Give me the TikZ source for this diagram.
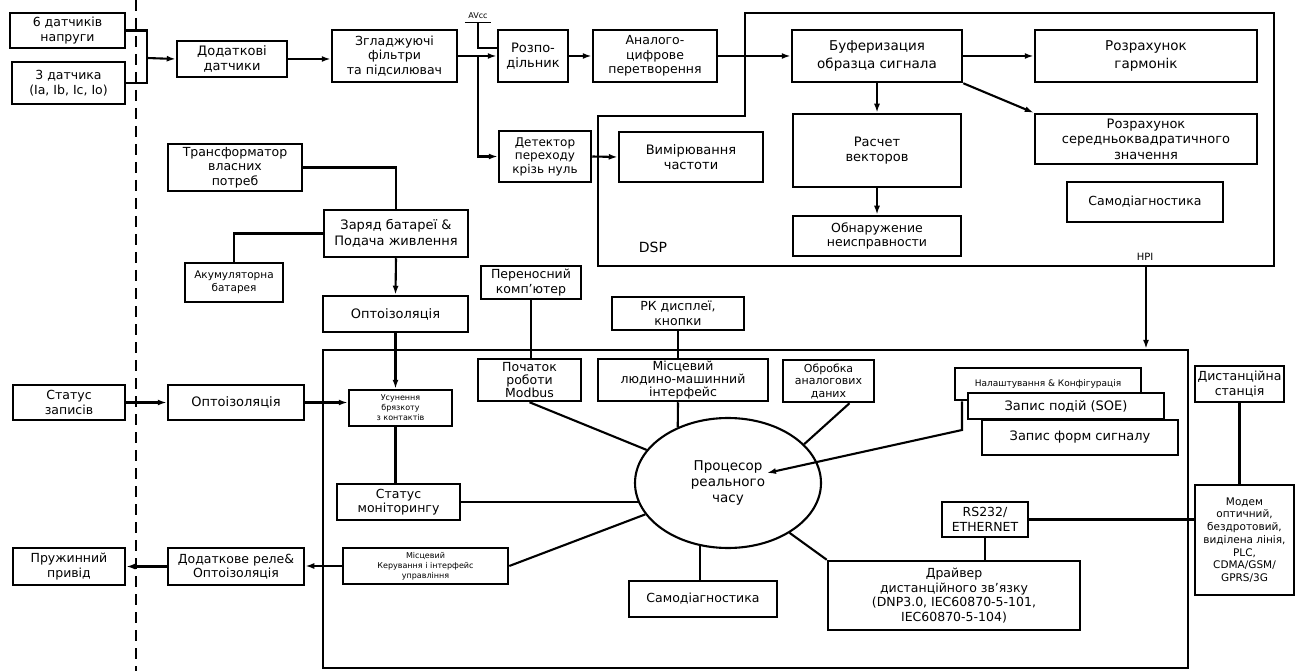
\documentclass[tikz,border=0pt]{standalone}
\usepackage{fontspec}
\setmainfont{DejaVu Sans}
\usetikzlibrary{arrows.meta,shapes.geometric,calc}
\begin{document}
\begin{tikzpicture}[x=1pt,y=-1pt,
 bx/.style={draw,line width=2.5pt,fill=white,inner sep=1pt,align=center,font=\fontsize{12.5}{14.5}\selectfont},
 big/.style={font=\fontsize{13.5}{18}\selectfont},
 mid/.style={font=\fontsize{13}{15.5}\selectfont},
 sml/.style={font=\fontsize{10.5}{12.5}\selectfont},
 tiny/.style={font=\fontsize{8}{10}\selectfont},
 ln/.style={line width=2.1pt},
 ar/.style={line width=2.1pt,-{Latex[length=9pt,width=6pt]}},
]
\useasboundingbox (0,0) rectangle (1299,671);
\fill[white] (0,0) rectangle (1299,671);
% dashed boundary
\draw[line width=1.6pt,dash pattern=on 11pt off 7pt] (136,0) -- (136,671);
% controller outline and DSP outline
\node[draw,line width=2.3pt,minimum width=865pt,minimum height=318pt,inner sep=0pt] (ctrl) at (755.5,509) {};
\draw[line width=2.3pt] (745,13) -- (1274,13) -- (1274,266) -- (598,266) -- (598,116) -- (745,116) -- cycle;
\node[font=\fontsize{14}{16}\selectfont] (dsp) at (653,247) {DSP};
\node[font=\fontsize{10}{12}\selectfont] (hpilbl) at (1145,257) {HPI};

% top chain
\node[bx,minimum width=115pt,minimum height=35pt] (v6) at (67.5,30.5) {6 датчиків\\напруги};
\node[bx,minimum width=113pt,minimum height=42pt] (i3) at (68.5,83) {3 датчика\\(Ia, Ib, Ic, Io)};
\node[bx,mid,minimum width=110pt,minimum height=36pt] (dod) at (232,59) {Додаткові\\датчики};
\node[bx,minimum width=125pt,minimum height=52pt] (filt) at (394.5,56) {Згладжуючі\\фільтри\\та підсилювач};
\node[bx,mid,minimum width=70pt,minimum height=52pt] (div) at (533,56) {Розпо-\\дільник};
\node[bx,minimum width=124pt,minimum height=52pt] (adc) at (655,56) {Аналого-\\цифрове\\перетворення};
\node[bx,big,minimum width=170pt,minimum height=52pt] (buf) at (877,56) {Буферизация\\образца сигнала};
\node[bx,big,minimum width=222pt,minimum height=52pt] (harm) at (1146,56) {Розрахунок\\гармонік};
\node[bx,mid,minimum width=168pt,minimum height=73pt] (vec) at (877,150.5) {Расчет\\векторов};
\node[bx,mid,minimum width=222pt,minimum height=50pt] (rms) at (1146,139) {Розрахунок\\середньоквадратичного\\значення};
\node[bx,minimum width=168pt,minimum height=40pt] (fault) at (877,236) {Обнаружение\\неисправности};
\node[bx,minimum width=156pt,minimum height=40pt] (selfa) at (1145,202) {Самодіагностика};
\node[bx,font=\fontsize{12}{13.5}\selectfont,minimum width=92pt,minimum height=51pt] (zcd) at (545,156.5) {Детектор\\переходу\\крізь нуль};
\node[bx,mid,minimum width=144pt,minimum height=50pt] (freq) at (691,157) {Вимірювання\\частоти};
\node[tiny] (avcc) at (478,16) {AVcc};

% power section
\node[bx,minimum width=134pt,minimum height=47pt] (trans) at (235,167.5) {Трансформатор\\власних\\потреб};
\node[bx,sml,minimum width=98pt,minimum height=39pt] (batt) at (234,282.5) {Акумуляторна\\батарея};
\node[bx,mid,minimum width=144pt,minimum height=47pt] (charge) at (396,233.5) {Заряд батареї \&\\Подача живлення};
\node[bx,mid,minimum width=145pt,minimum height=36pt] (opto1) at (395.5,314) {Оптоізоляція};
\node[bx,minimum width=100pt,minimum height=33pt] (pc) at (531,282.5) {Переносний\\комп'ютер};
\node[bx,minimum width=132pt,minimum height=33pt] (lcd) at (678,313.5) {РК дисплеї,\\кнопки};

% lower left
\node[bx,minimum width=112pt,minimum height=35pt] (status) at (69,402.5) {Статус\\записів};
\node[bx,mid,minimum width=136pt,minimum height=35pt] (opto2) at (236,402.5) {Оптоізоляція};
\node[bx,tiny,minimum width=103pt,minimum height=36pt] (deb) at (400.5,408) {Усунення\\брязкоту\\з контактів};
\node[bx,minimum width=123pt,minimum height=36pt] (monit) at (398.5,502) {Статус\\моніторингу};
\node[bx,minimum width=112pt,minimum height=37pt] (spring) at (69,566.5) {Пружинний\\привід};
\node[bx,minimum width=136pt,minimum height=37pt] (relay) at (236,566.5) {Додаткове реле\&\\Оптоізоляція};
\node[bx,tiny,minimum width=165pt,minimum height=36pt] (local) at (425.5,566) {Місцевий\\Керування і інтерфейс\\управління};

% controller contents
\node[bx,font=\fontsize{12.5}{13}\selectfont,minimum width=103pt,minimum height=42pt] (modbus) at (529.5,380) {Початок\\роботи\\Modbus};
\node[bx,font=\fontsize{12.5}{13}\selectfont,minimum width=170pt,minimum height=42pt] (hmi) at (683,380) {Місцевий\\людино-машинний\\інтерфейс};
\node[bx,font=\fontsize{11}{12.5}\selectfont,minimum width=91pt,minimum height=42pt] (analog) at (828.5,381) {Обробка\\аналогових\\даних};
\node[bx,sml,font=\fontsize{9}{11}\selectfont,minimum width=186pt,minimum height=32pt] (cfg) at (1048,384) {Налаштування \& Конфігурація};
\node[bx,mid,minimum width=196pt,minimum height=26pt] (soe) at (1066,406) {Запис подій (SOE)};
\node[bx,mid,minimum width=196pt,minimum height=35pt] (wave) at (1080,437.5) {Запис форм сигналу};
\node[draw,ellipse,line width=2.1pt,minimum width=186pt,minimum height=130pt,inner sep=0pt,align=center,font=\fontsize{13.5}{16}\selectfont] (cpu) at (728,483) {Процесор\\реального\\часу};
\node[bx,minimum width=148pt,minimum height=36pt] (selfb) at (703,599) {Самодіагностика};
\node[bx,minimum width=86pt,minimum height=35pt] (rs) at (985,519.5) {RS232/\\ETHERNET};
\node[bx,minimum width=252pt,minimum height=69pt] (drv) at (954,595.5) {Драйвер\\дистанційного зв'язку\\(DNP3.0, IEC60870-5-101,\\IEC60870-5-104)};
\node[bx,minimum width=89pt,minimum height=36pt] (station) at (1239.5,384) {Дистанційна\\станція};
\node[bx,font=\fontsize{10.5}{12.7}\selectfont,minimum width=99pt,minimum height=110pt] (modem) at (1244.5,540) {Модем\\оптичний,\\бездротовий,\\виділена лінія,\\PLC,\\CDMA/GSM/\\GPRS/3G};

% coordinates
\coordinate (jn) at (147,58);
\coordinate (br) at (478,56);
\coordinate (hpi) at (1146,266);
\coordinate (cfgj) at (962,430);
\coordinate (cpuin) at (767,473);

% connectors top
\draw[ln] (v6.east) -| (jn) |- (i3.east);
\draw[ar] (jn) -- (dod.west);
\draw[ar] (dod.east) -- (dod.east -| filt.west);
\draw[ar] (filt.east) -- (div.west);
\draw[ar] (br) |- (zcd.west);
\draw[line width=1.2pt] (avcc.south west) -- (avcc.south east);
\draw[ln] (avcc.south) |- ($(div.west)+(0,-8)$);
\draw[ar] (div.east) -- (adc.west);
\draw[ar] (adc.east) -- (buf.west);
\draw[ar] (buf.east) -- (harm.west);
\draw[ar] (buf.south) -- (vec.north);
\draw[ar] (buf.south east) -- (rms.north west);
\draw[ar] (vec.south) -- (fault.north);
\draw[ar] (zcd.east) -- (freq.west);
\draw[ar] (hpi) -- (hpi |- ctrl.north);

% power
\draw[ln] (trans.east) -| (charge.north);
\draw[ln] (batt.north) |- (charge.west);
\draw[ar] (charge.south) -- (opto1.north);
\draw[ar] (opto1.south) -- (opto1.south |- deb.north);
\draw[ln] (opto1.south |- deb.south) -- (opto1.south |- monit.north);
\draw[ln] (pc.south) -- (pc.south |- modbus.north);
\draw[ln] (lcd.south) -- (lcd.south |- hmi.north);

% lower left
\draw[ar] (status.east) -- (opto2.west);
\draw[ar] (opto2.east) -- (opto2.east -| deb.west);
\draw[ar] (local.west) -- (local.west -| relay.east);
\draw[ar] (relay.west) -- (spring.east);

% processor links
\draw[ln] (modbus.south) -- (cpu);
\draw[ln] (hmi.south -| lcd.south) -- (cpu.132);
\draw[ln] ($(analog.south)+(21,0)$) -- (cpu.27);
\draw[ar] (cfg.south -| cfgj) -- (cfgj) -- (cpuin);
\draw[ln] (monit.east) -- (monit.east -| cpu.193);
\draw[ln] (local.east) -- (cpu);
\draw[ln] (cpu.246) -- (cpu.246 |- selfb.north);
\draw[ln] (cpu.321) -- (drv.north west);
\draw[ln] (rs.south) -- (rs.south |- drv.north);
\draw[ln] (rs.east) -- (rs.east -| modem.west);
\draw[ln] (station.south) -- (station.south |- modem.north);
\end{tikzpicture}
\end{document}
